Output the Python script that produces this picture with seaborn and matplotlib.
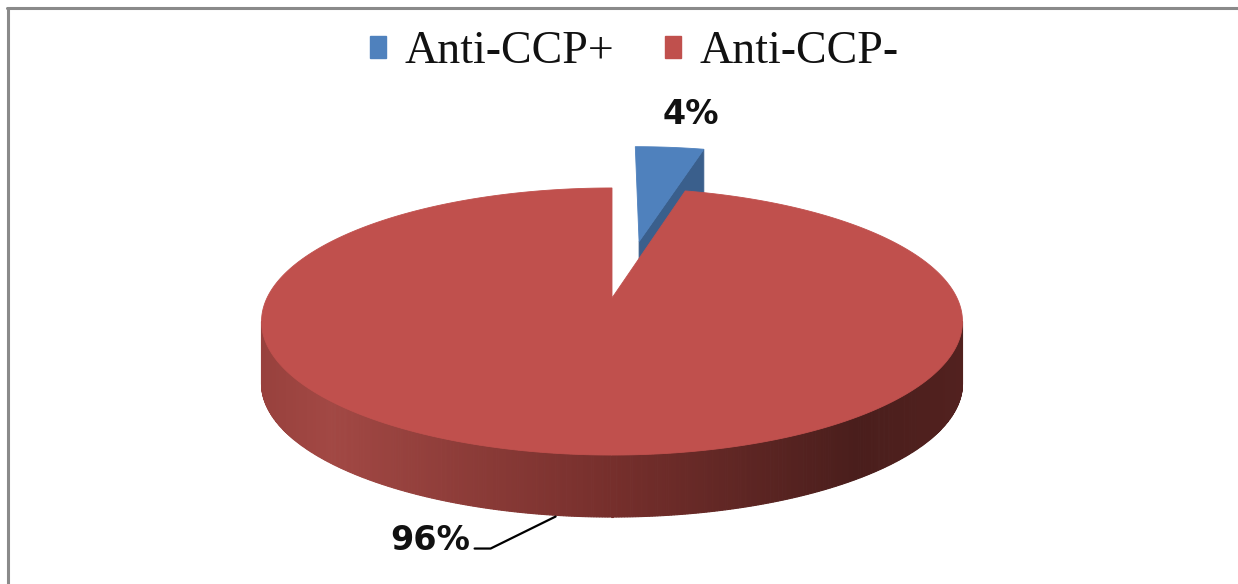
import numpy as np
import matplotlib
matplotlib.use("Agg")
import matplotlib.pyplot as plt
import seaborn as sns
from matplotlib.patches import Polygon, Patch
from matplotlib.lines import Line2D
from matplotlib.colors import to_rgb

# ---- data ----
categories = ["Anti-CCP+", "Anti-CCP-"]
values = [4, 96]
pct_labels = ["4%", "96%"]
colors = ["#4F81BD", "#C0504D"]
explode = [0.48, 0.0]

sns.set_theme(style="white")
plt.rcParams["font.family"] = ["DejaVu Sans"]

W, H = 1238, 584
fig = plt.figure(figsize=(W / 100, H / 100), dpi=100)
fig.patch.set_facecolor("white")
ax = fig.add_axes([0, 0, 1, 1])
ax.set_xlim(0, W)
ax.set_ylim(H, 0)
ax.axis("off")

# ---- projection of the tilted disc (pixel space) ----
CX, CY = 612.0, 298.0
A, B, K = 345.0, 129.4, 0.176
DEPTH = 62.0


def proj(u, v, dz=0.0):
    s = 1.0 + K * v
    return CX + A * u / s, CY - B * v / s + dz


def arc(theta0, theta1, n, ou=0.0, ov=0.0, dz=0.0, r=1.0):
    th = np.radians(np.linspace(theta0, theta1, n))
    return [proj(ou + r * np.cos(t), ov + r * np.sin(t), dz) for t in th]


vals = np.array(values, dtype=float)
frac = vals / vals.sum()
cum = np.concatenate([[0], np.cumsum(frac)])
# start at 12 o'clock, clockwise
starts = 90 - 360 * cum[:-1]
ends = 90 - 360 * cum[1:]


def shade(c, f):
    r, g, b = to_rgb(c)
    return (r * f, g * f, b * f)


# ---- blue slice (exploded, at the back) ----
i = 0
a_hi, a_lo = starts[i], ends[i]
mid = np.radians((a_hi + a_lo) / 2 - 3)
ou, ov = explode[i] * np.cos(mid), explode[i] * np.sin(mid)
t = np.radians(a_lo)
p_ap = proj(ou, ov)
p_rim = proj(ou + np.cos(t), ov + np.sin(t))
wall = [p_ap, p_rim, (p_rim[0], p_rim[1] + DEPTH), (p_ap[0], p_ap[1] + DEPTH)]
ax.add_patch(Polygon(wall, closed=True, fc=shade(colors[i], 0.74),
                     ec=shade(colors[i], 0.74), lw=0.6, zorder=2))
top = [p_ap] + arc(a_lo, a_hi, 40, ou, ov)
ax.add_patch(Polygon(top, closed=True, fc=colors[i], ec=colors[i], lw=0.6, zorder=3))

# ---- red slice: outer front wall with gradient ----
i = 1
stops_t = [0.0, 0.1, 0.5, 0.85, 1.0]
stops_c = np.array([(152, 65, 61), (162, 72, 68), (118, 47, 44),
                    (74, 30, 28), (82, 33, 31)]) / 255.0
th_front0 = 180 + np.degrees(np.arcsin(K))
th_front1 = 360 - np.degrees(np.arcsin(K))
ths = np.linspace(th_front0, th_front1, 420)
xmin = CX - A / np.sqrt(1 - K * K)
xmax = CX + A / np.sqrt(1 - K * K)
for t0, t1 in zip(ths[:-1], ths[1:]):
    r0, r1 = np.radians(t0), np.radians(t1)
    q0 = proj(np.cos(r0), np.sin(r0))
    q1 = proj(np.cos(r1), np.sin(r1))
    xm = 0.5 * (q0[0] + q1[0])
    tt = (xm - xmin) / (xmax - xmin)
    col = [np.interp(tt, stops_t, stops_c[:, k]) for k in range(3)]
    poly = [q0, q1, (q1[0], q1[1] + DEPTH), (q0[0], q0[1] + DEPTH)]
    ax.add_patch(Polygon(poly, closed=True, fc=col, ec=col, lw=0.8, zorder=4))

# red top face: from its start (12 o'clock) counter-clockwise round to the blue edge
arc_pts = arc(starts[i] + 360.0 * frac[i], ends[i] + 360.0 + 360.0 * frac[i] - 360.0 * frac[i]
              + 360.0 * frac[0] - 360.0 * frac[0], 600)
top = [proj(0, 0)] + arc(starts[0], ends[0] + 360.0, 600)
ax.add_patch(Polygon(top, closed=True, fc=colors[i], ec=colors[i], lw=0.6, zorder=5))

# ---- percentage labels ----
mid0 = np.radians((starts[0] + ends[0]) / 2)
lx, ly = proj(1.95 * np.cos(mid0), 1.95 * np.sin(mid0))
ax.text(lx + 16, ly + 3, pct_labels[0], ha="center", va="center",
        fontsize=24, fontweight="bold", color="#111111", zorder=6)

mid1 = np.radians((starts[1] + ends[1]) / 2)
rx, ry = proj(np.cos(mid1), np.sin(mid1), DEPTH)
kx, ky = rx - 69, ry + 33
ex = kx - 16
ax.add_line(Line2D([rx - 4, kx, ex], [ry + 1, ky, ky], color="black", lw=1.6, zorder=6))
ax.text(ex - 4, ky - 8, pct_labels[1], ha="right", va="center",
        fontsize=24, fontweight="bold", color="#111111", zorder=6)

# ---- legend ----
handles = [Patch(facecolor=c, edgecolor=c, label=l) for c, l in zip(colors, categories)]
leg = fig.legend(handles=handles, loc="center", bbox_to_anchor=(634 / W, 1 - 52 / H),
                 ncol=2, frameon=False,
                 prop={"family": "Liberation Serif", "size": 33},
                 handlelength=0.36, handleheight=0.36, handletextpad=0.4,
                 columnspacing=1.1)
for txt in leg.get_texts():
    txt.set_color("#111111")

# ---- chart border (top and left visible) ----
fig.add_artist(Line2D([7 / W, 1], [1 - 7.5 / H, 1 - 7.5 / H], transform=fig.transFigure,
                      color="#8a8a8a", lw=2.2))
fig.add_artist(Line2D([7.5 / W, 7.5 / W], [0, 1 - 7.5 / H], transform=fig.transFigure,
                      color="#8a8a8a", lw=2.2))

fig.savefig("out.png", dpi=100, facecolor="white")
